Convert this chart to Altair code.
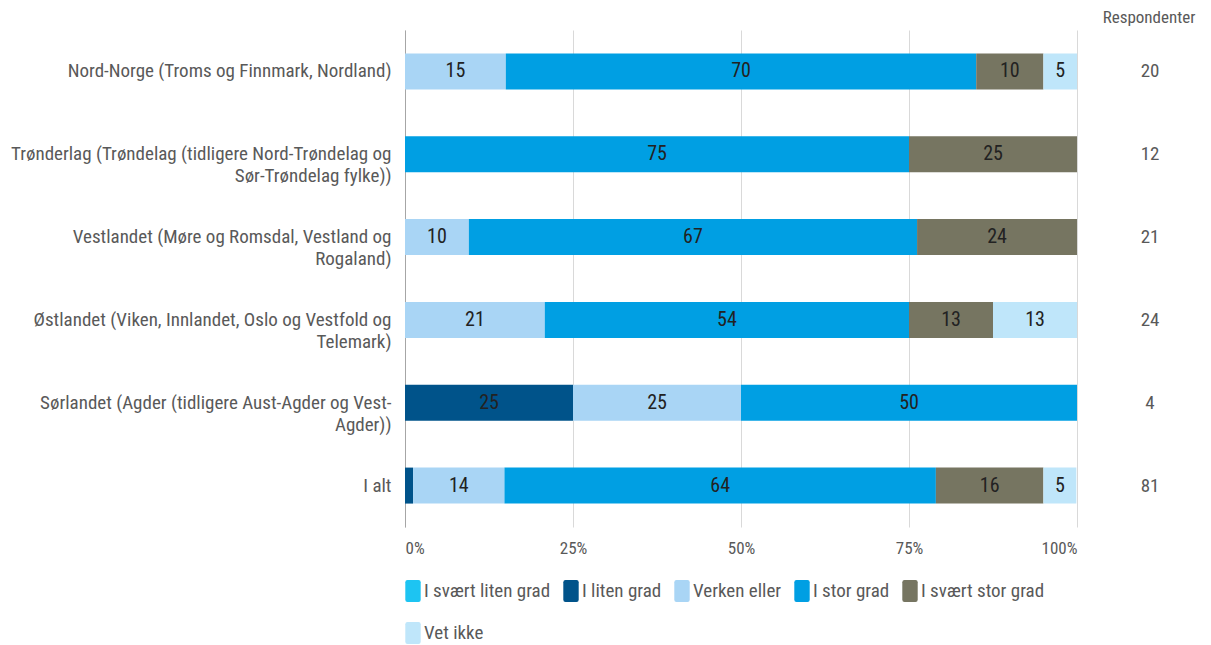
import altair as alt
import pandas as pd

FONT = "Roboto Condensed, Liberation Sans Narrow, Arial Narrow, Roboto, sans-serif"

regions = [
    "Nord-Norge (Troms og Finnmark, Nordland)",
    "Trønderlag (Trøndelag (tidligere Nord-Trøndelag og|Sør-Trøndelag fylke))",
    "Vestlandet (Møre og Romsdal, Vestland og|Rogaland)",
    "Østlandet (Viken, Innlandet, Oslo og Vestfold og|Telemark)",
    "Sørlandet (Agder (tidligere Aust-Agder og Vest-|Agder))",
    "I alt",
]
categories = ["I svært liten grad", "I liten grad", "Verken eller",
              "I stor grad", "I svært stor grad", "Vet ikke"]
colors = ["#1DC4F2", "#00538A", "#A9D5F5", "#009FE3", "#767561", "#BFE6FA"]

svaert_liten = [0, 0, 0, 0, 0, 0]
liten = [0, 0, 0, 0, 25, 1.2]
verken = [15, 0, 9.5, 20.8, 25, 13.6]
stor = [70, 75, 66.7, 54.2, 50, 64.2]
svaert_stor = [10, 25, 23.8, 12.5, 0, 16.0]
vet_ikke = [5, 0, 0, 12.5, 0, 4.9]
respondenter = [20, 12, 21, 24, 4, 81]

series = [svaert_liten, liten, verken, stor, svaert_stor, vet_ikke]
rows = []
for ci, (cat, vals) in enumerate(zip(categories, series)):
    for ri, reg in enumerate(regions):
        if vals[ri] > 0:
            rows.append({"region": reg, "kategori": cat, "ord": ci, "verdi": vals[ri]})
df = pd.DataFrame(rows)
resp_df = pd.DataFrame({"region": regions, "n": respondenter})
head_df = pd.DataFrame({"t": ["Respondenter"]})

# rounded rectangle in Vega's [-1, 1] custom symbol space
ROUNDED = ("M -0.5 -1 L 0.5 -1 Q 0.7 -1 0.7 -0.8 L 0.7 0.8 Q 0.7 1 0.5 1 "
           "L -0.5 1 Q -0.7 1 -0.7 0.8 L -0.7 -0.8 Q -0.7 -1 -0.5 -1 Z")

y_enc = alt.Y("region:N", sort=regions, title=None,
              scale=alt.Scale(paddingInner=0, paddingOuter=0),
              axis=alt.Axis(labelExpr="split(datum.label, '|')", labelFontSize=19,
                            labelColor="#595959", labelFont=FONT, labelLimit=400,
                            labelPadding=14, ticks=False, domain=True,
                            domainColor="#a6a6a6", labelLineHeight=22))

base = alt.Chart(df).transform_stack(
    stack="verdi", groupby=["region"], as_=["x0", "x1"],
    sort=[alt.SortField("ord", order="ascending")]
).transform_calculate(mid="(datum.x0 + datum.x1) / 2", lbl="format(datum.verdi, '.0f')")

bars = base.mark_bar(size=36).encode(
    x=alt.X("x0:Q", title=None, scale=alt.Scale(domain=[0, 100], nice=False),
            axis=alt.Axis(values=[0, 25, 50, 75, 100], labelExpr="datum.value + '%'",
                          grid=True, gridColor="#d9d9d9", domain=False, ticks=False,
                          labelFontSize=17, labelColor="#595959", labelFont=FONT,
                          labelPadding=13, labelFlush=True)),
    x2="x1:Q",
    y=y_enc,
    color=alt.Color("kategori:N", scale=alt.Scale(domain=categories, range=colors),
                    legend=alt.Legend(title=None, orient="none", legendX=-3, legendY=550,
                                      direction="horizontal", columns=5,
                                      symbolType=ROUNDED, symbolSize=484,
                                      symbolStrokeWidth=0, labelFontSize=19,
                                      labelColor="#595959", labelFont=FONT,
                                      columnPadding=9, rowPadding=20, labelOffset=0)),
)

labels = base.transform_filter("datum.verdi >= 3").mark_text(
    fontSize=20, color="#222222", font=FONT
).encode(x="mid:Q", y=alt.Y("region:N", sort=regions), text="lbl:N")

resp = alt.Chart(resp_df).mark_text(fontSize=19, color="#595959", font=FONT).encode(
    x=alt.value(745), y=alt.Y("region:N", sort=regions), text="n:Q")

head = alt.Chart(head_df).mark_text(fontSize=17, color="#595959", font=FONT).encode(
    x=alt.value(744), y=alt.value(-12), text="t:N")

chart = alt.layer(bars, labels, resp, head).properties(
    width=672, height=497,
    autosize=alt.AutoSizeParams(type="none"),
    padding={"left": 397, "top": 22, "right": 125, "bottom": 118},
).configure_view(stroke=None)

chart.save("out.html", embed_options={"renderer": "svg", "actions": False})
